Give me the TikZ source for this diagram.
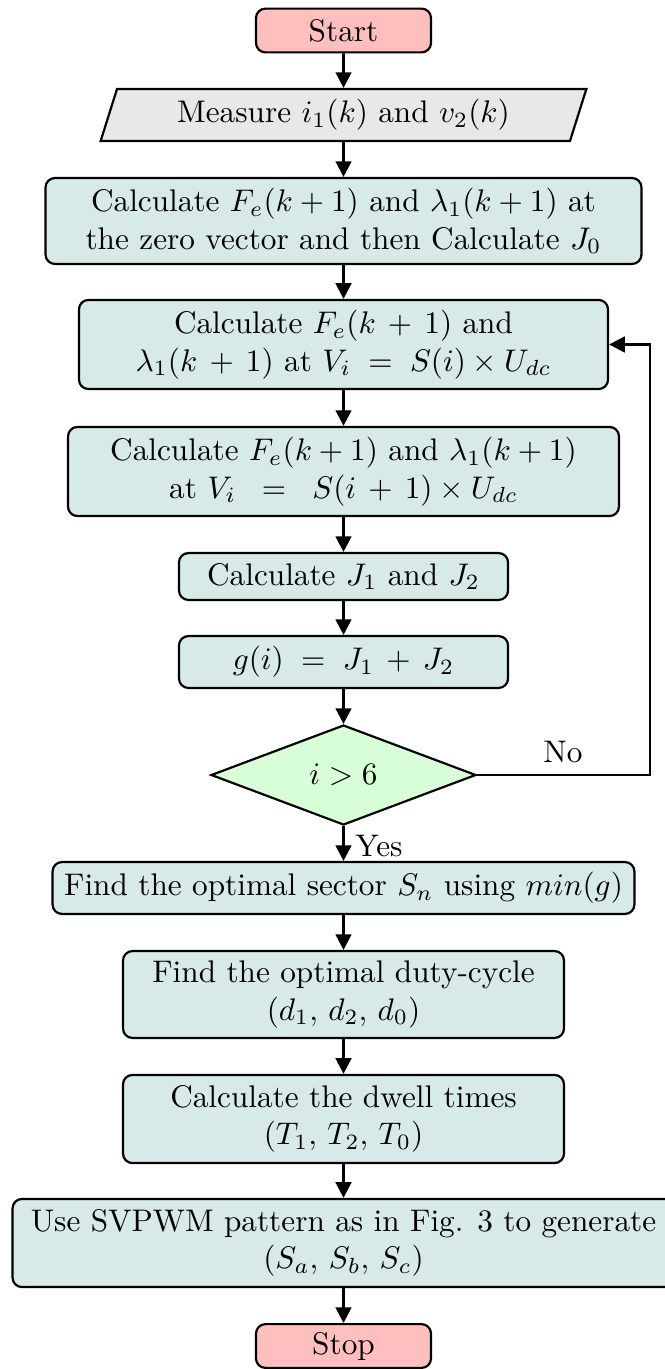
\documentclass[tikz,border=0pt]{standalone}
\usetikzlibrary{shapes.geometric,arrows.meta}
\definecolor{flowred}{HTML}{FFBFBF}
\definecolor{flowgray}{HTML}{E8E8E8}
\definecolor{flowteal}{HTML}{D7EAE8}
\definecolor{flowgreen}{HTML}{D8FFD8}

\begin{document}
\begin{tikzpicture}[x=0.32pt,y=-0.32pt,
  termbox/.style={draw,line width=0.7pt,rounded corners=3pt,fill=flowred,minimum width=56pt,minimum height=14pt,inner sep=0pt},
  procbox/.style={draw,line width=0.7pt,rounded corners=3pt,fill=flowteal,align=center,inner sep=0pt},
  iobox/.style={draw,line width=0.7pt,trapezium,trapezium left angle=69,trapezium right angle=111,trapezium stretches=true,fill=flowgray,inner sep=0pt},
  decbox/.style={draw,line width=0.7pt,diamond,fill=flowgreen,inner sep=0pt},
  flowarrow/.style={line width=0.85pt,-{Triangle[length=5pt,width=5pt]}}]
\useasboundingbox (0,0) rectangle (664,1369);
\node[termbox] (start) at (343.5,30.5) {Start};
\node[iobox,minimum width=155.5pt,minimum height=16.6pt] (measure) at (343.5,115) {Measure $i_1(k)$ and $v_2(k)$};
\node[procbox,minimum width=190.7pt,minimum height=27.5pt] (zero) at (343.5,221) {Calculate $F_e(k+1)$ and $\lambda_1(k+1)$ at\\the zero vector and then Calculate $J_0$};
\node[procbox,minimum width=169.3pt,minimum height=28.5pt] (vecA) at (343.5,344.5) {Calculate $F_e(k\,+\,1)$ and\\$\lambda_1(k\,+\,1)$ at $V_i\;=\;S(i)\times U_{dc}$};
\node[procbox,minimum width=176.3pt,minimum height=28.5pt] (vecB) at (343.5,471.5) {Calculate $F_e(k+1)$ and $\lambda_1(k+1)$\\at $V_i\;\;=\;\;S(i\,+\,1)\times U_{dc}$};
\node[procbox,minimum width=105.3pt,minimum height=15pt] (cost) at (343.5,576.5) {Calculate $J_1$ and $J_2$};
\node[procbox,minimum width=105.3pt,minimum height=16.6pt] (gsum) at (343.5,662) {$g(i)\;=\;J_1\,+\,J_2$};
\node[decbox,minimum width=84.8pt,minimum height=32pt] (check) at (343.5,775) {$i>6$};
\node[procbox,minimum width=186.2pt,minimum height=16.6pt] (sector) at (343.5,888) {Find the optimal sector $S_n$ using $min(g)$};
\node[procbox,minimum width=141.1pt,minimum height=27.8pt] (duty) at (343.5,994.5) {Find the optimal duty-cycle\\$(d_1,\,d_2,\,d_0)$};
\node[procbox,minimum width=141.1pt,minimum height=28.2pt] (dwell) at (343.5,1119) {Calculate the dwell times\\$(T_1,\,T_2,\,T_0)$};
\node[procbox,minimum width=211.8pt,minimum height=28.2pt] (svpwm) at (343.5,1243) {Use SVPWM pattern as in Fig. 3 to generate\\$(S_a,\,S_b,\,S_c)$};
\node[termbox] (stop) at (343.5,1346) {Stop};
% main line
\foreach \from/\to in {start/measure,measure/zero,zero/vecA,vecA/vecB,vecB/cost,cost/gsum,gsum/check,check/sector,sector/duty,duty/dwell,dwell/svpwm,svpwm/stop}
  \draw[flowarrow] (\from) -- (\to);
% loop back
\coordinate (loop) at (650,775);
\draw[flowarrow] (check.east) -- (loop) |- (vecA.east);
\node (no) at (563,752) {No};
\node (yes) at (379,846) {Yes};
\end{tikzpicture}
\end{document}
